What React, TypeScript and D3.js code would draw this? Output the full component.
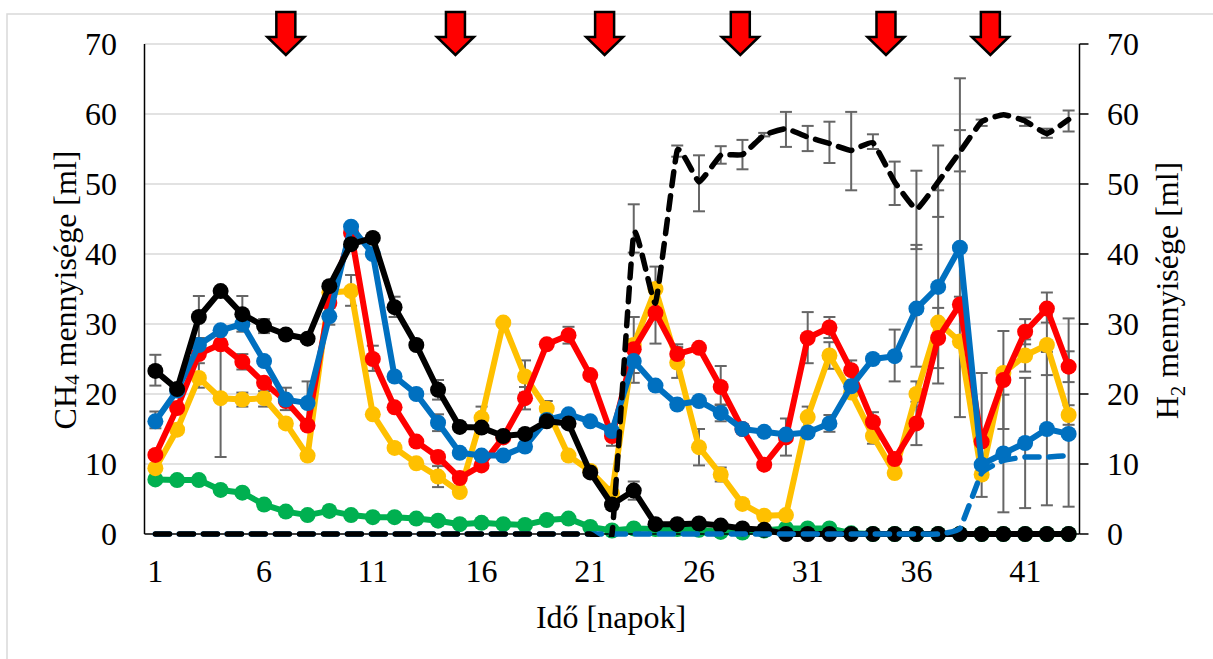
import React from 'react'
import * as d3 from 'd3'

const days = d3.range(1, 44)
const xTickDays = [1, 6, 11, 16, 21, 26, 31, 36, 41]
const yTicks = [0, 10, 20, 30, 40, 50, 60, 70]
const arrowDays = [7, 14.8, 21.66, 27.9, 34.6, 39.4]

const greenValues = [7.8, 7.7, 7.7, 6.3, 5.9, 4.2, 3.2, 2.7, 3.3, 2.7, 2.4, 2.4, 2.2, 1.9, 1.4, 1.6, 1.4, 1.3, 2, 2.2, 1, 0.5, 0.8, 0.7, 0.7, 0.6, 0.3, 0.2, 0.5, 0.8, 0.8, 0.8, 0.1, 0, 0, 0, 0, 0, 0, 0, 0, 0, 0]
const yellowValues = [9.4, 14.9, 22.3, 19.4, 19.2, 19.4, 15.8, 11.2, 34.5, 34.7, 17.1, 12.3, 10.1, 8.2, 6, 16.6, 30.2, 22.5, 17.9, 11.2, 9, 5.8, 27, 35, 24.5, 12.4, 8.5, 4.3, 2.6, 2.7, 16.7, 25.5, 20.2, 14, 8.7, 20, 30.2, 27.5, 8.5, 23, 25.5, 27, 17]
const redValues = [11.3, 18, 25.7, 27.1, 24.6, 21.6, 19, 15.5, 33, 43, 25, 18.1, 13.2, 11, 8, 9.8, 13.8, 19.4, 27.1, 28.4, 22.7, 14, 26.4, 31.6, 25.7, 26.6, 21, 15, 9.9, 13.8, 28, 29.5, 23.4, 16, 10.7, 15.8, 28, 32.8, 13.2, 22, 28.9, 32.2, 23.9]
const blueValues = [16.1, 20.5, 27, 29.1, 30, 24.7, 19.2, 18.7, 31.1, 43.9, 40, 22.5, 20, 15.9, 11.6, 11.2, 11.2, 12.5, 16.3, 17.1, 16.1, 14.7, 24.7, 21.2, 18.5, 19, 17.3, 15, 14.6, 14.2, 14.5, 15.8, 21.1, 25, 25.4, 32.2, 35.3, 40.9, 9.9, 11.5, 13, 15, 14.3]
const blackValues = [23.3, 20.7, 31, 34.7, 31.4, 29.7, 28.5, 27.9, 35.4, 41.4, 42.3, 32.4, 27, 20.6, 15.3, 15.2, 14, 14.3, 16.1, 15.8, 8.8, 4.2, 6.2, 1.4, 1.4, 1.5, 1.2, 0.8, 0.6, 0, 0, 0, 0, 0, 0, 0, 0, 0, 0, 0, 0, 0, 0]
const blueDashed = [0, 0, 0, 0, 0, 0, 0, 0, 0, 0, 0, 0, 0, 0, 0, 0, 0, 0, 0, 0, 0, 0, 0, 0, 0, 0, 0, 0, 0, 0, 0, 0, 0, 0, 0, 0, 0, 0.8, 8.7, 10.5, 11, 11, 11.2]
const blackDashed = [0, 0, 0, 0, 0, 0, 0, 0, 0, 0, 0, 0, 0, 0, 0, 0, 0, 0, 0, 0, 0, 0, 43, 33, 54.8, 50.3, 54.1, 54.2, 57, 57.9, 56.7, 55.8, 54.8, 55.9, 50.3, 46.4, 50.3, 54.6, 58.9, 59.9, 59, 57.2, 59.2]

// day, upper value, lower value
const errorBars: [number, number, number][] = [
  [1, 25.6, 21.2], [1, 17.5, 15.1], [3, 34, 28], [3, 24.4, 20.9], [4, 27.8, 11], [5, 34, 28.9], [5, 25.7, 23.5], [5, 20.2, 18.2],
  [6, 30.7, 28.7], [6, 20.4, 18.2], [7, 20.9, 17.7], [8, 21.8, 15.6], [9, 32.3, 29.9], [10, 37, 32.6], [11, 26.9, 23.3], [12, 33.9, 31],
  [14, 22, 19.2], [14, 17.1, 14.7], [14, 9.7, 6.7], [16, 18.2, 15], [18, 24.8, 20.2], [18, 21, 17.8], [19, 19, 16.8], [20, 29.6, 27.2],
  [22, 15.3, 12.6], [23, 47.1, 40.2], [23, 31, 23], [23, 27.8, 21.6], [23, 7.5, 4.9], [24, 38.2, 27.2], [25, 27.1, 24.3], [25, 26.7, 22.3],
  [25, 55.5, 53.9], [26, 54.1, 46.1], [26, 15, 9.8], [27, 55.4, 52.9], [27, 24, 18.4], [27, 18.5, 16.1], [27, 9.5, 7.5], [28, 56.3, 52.1],
  [29, 57.3, 56.8], [30, 60.3, 55.3], [30, 16.5, 11.2], [31, 58.3, 54.7], [31, 31.7, 24.4], [31, 18.2, 15.2], [32, 58.9, 53], [32, 31, 28],
  [32, 27.4, 23.6], [32, 17, 14.6], [33, 60.3, 49.1], [33, 24.8, 22], [34, 57.1, 55], [34, 17.4, 14.6], [34, 15.1, 12.9], [35, 53.2, 47],
  [35, 29.2, 21.8], [36, 51.9, 40.7], [36, 41.3, 23.9], [36, 21.8, 18.2], [36, 18.9, 12.7], [37, 55.5, 45.3], [37, 49.1, 21.5], [37, 32.3, 23.7],
  [38, 65.1, 16.7], [38, 57.7, 51.8], [38, 33.9, 31.7], [39, 59.2, 58.3], [39, 23, 5.3], [40, 29, 15], [40, 19.9, 3.1], [41, 59.5, 58.3],
  [41, 30.7, 27.1], [41, 27.8, 23.2], [41, 22.3, 3.7], [42, 57.9, 56.6], [42, 34.5, 30.2], [42, 31.3, 22.7], [42, 26, 4.1], [43, 60.5, 57.5],
  [43, 30.8, 3.9], [43, 26.1, 21.7], [43, 18.4, 15.6],
]

const serif = "'Liberation Serif', 'Times New Roman', serif"

const App = () => {
  const width = 1213,
    height = 659

  // one band per day, points sit in the middle of the band
  const x = d3.scaleLinear().domain([0.5, 43.5]).range([144.5, 1079.5])
  const y = d3.scaleLinear().domain([0, 70]).range([534, 44])

  const line = d3
    .line<number>()
    .x((_, i) => x(days[i]))
    .y(d => y(d))

  // tight cardinal keeps the peaks sharp, as the dashed lines are in the picture
  const smooth = d3
    .line<number>()
    .x((_, i) => x(days[i]))
    .y(d => y(d))
    .curve(d3.curveCardinal.tension(0.65))

  const solid = [
    { values: greenValues, color: '#00B050' },
    { values: yellowValues, color: '#FFC000' },
    { values: redValues, color: '#FF0000' },
    { values: blueValues, color: '#0070C0' },
    { values: blackValues, color: '#000000' },
  ]

  return (
    <svg
      width={width}
      height={height}
      style={{ position: 'absolute', left: 0, top: 0, background: '#fff' }}
      fontFamily={serif}
      fill="#000"
    >
      {/* the curve dips under zero after day 22, keep it at the axis */}
      <clipPath id="dashed-clip">
        <rect x={x.range()[0]} y={0} width={x.range()[1] - x.range()[0]} height={y(0) + 3} />
      </clipPath>

      <rect x={7} y={14} width={1300} height={700} fill="none" stroke="#d9d9d9" strokeWidth={1.5} />

      {/* gridlines */}
      {yTicks.slice(1).map(t => (
        <line key={t} x1={x.range()[0]} x2={x.range()[1]} y1={y(t)} y2={y(t)} stroke="#d9d9d9" strokeWidth={1.5} />
      ))}

      {/* error bars */}
      <g stroke="#666" strokeWidth={2}>
        {errorBars.map(([d, hi, lo], i) => (
          <g key={i}>
            <line x1={x(d)} x2={x(d)} y1={y(hi)} y2={y(lo)} />
            <line x1={x(d) - 6} x2={x(d) + 6} y1={y(hi)} y2={y(hi)} />
            <line x1={x(d) - 6} x2={x(d) + 6} y1={y(lo)} y2={y(lo)} />
          </g>
        ))}
      </g>

      {/* solid series with markers */}
      {solid.map(s => (
        <g key={s.color}>
          <path d={line(s.values) ?? ''} fill="none" stroke={s.color} strokeWidth={6} strokeLinejoin="round" />
          {s.values.map((v, i) => (
            <circle key={i} cx={x(days[i])} cy={y(v)} r={8} fill={s.color} />
          ))}
        </g>
      ))}

      {/* axes */}
      <g stroke="#000" strokeWidth={1.5}>
        <line x1={x.range()[0]} x2={x.range()[0]} y1={y(70)} y2={y(0)} />
        <line x1={x.range()[1]} x2={x.range()[1]} y1={y(70)} y2={y(0)} />
        <line x1={x.range()[0]} x2={x.range()[1]} y1={y(0)} y2={y(0)} />
        {yTicks.map(t => (
          <line key={t} x1={x.range()[1]} x2={x.range()[1] + 9} y1={y(t)} y2={y(t)} />
        ))}
      </g>

      {/* dashed series */}
      <g clipPath="url(#dashed-clip)">
        <path d={smooth(blueDashed) ?? ''} fill="none" stroke="#0070C0" strokeWidth={5.5} strokeDasharray="14 10" strokeLinecap="round" />
        <path d={smooth(blackDashed) ?? ''} fill="none" stroke="#000" strokeWidth={5.5} strokeDasharray="14 10" strokeLinecap="round" />
      </g>

      {/* arrows */}
      {arrowDays.map(d => {
        const c = x(d)
        const arrow = d3.path()
        arrow.moveTo(c - 9.5, 12)
        arrow.lineTo(c + 9.5, 12)
        arrow.lineTo(c + 9.5, 37)
        arrow.lineTo(c + 18.5, 37)
        arrow.lineTo(c, 55)
        arrow.lineTo(c - 18.5, 37)
        arrow.lineTo(c - 9.5, 37)
        arrow.closePath()
        return <path key={d} d={arrow.toString()} fill="#FF0000" stroke="#000" strokeWidth={2.5} />
      })}

      {/* text */}
      <g fontSize={32}>
        {yTicks.map(t => (
          <g key={t}>
            <text x={117} y={y(t) + 10.5} textAnchor="end">{t}</text>
            <text x={1107} y={y(t) + 10.5}>{t}</text>
          </g>
        ))}
        {xTickDays.map(d => (
          <text key={d} x={x(d)} y={582} textAnchor="middle">{d}</text>
        ))}
        <text x={611} y={627.5} textAnchor="middle">Idő [napok]</text>
        <text transform="translate(76,290) rotate(-90)" textAnchor="middle">
          CH<tspan fontSize={21} dy={3}>4</tspan><tspan dy={-3}> mennyisége [ml]</tspan>
        </text>
        <text transform="translate(1178,290.5) rotate(-90)" textAnchor="middle">
          H<tspan fontSize={21} dy={7}>2</tspan><tspan dy={-7}> mennyisége [ml]</tspan>
        </text>
      </g>
    </svg>
  )
}

export default App
